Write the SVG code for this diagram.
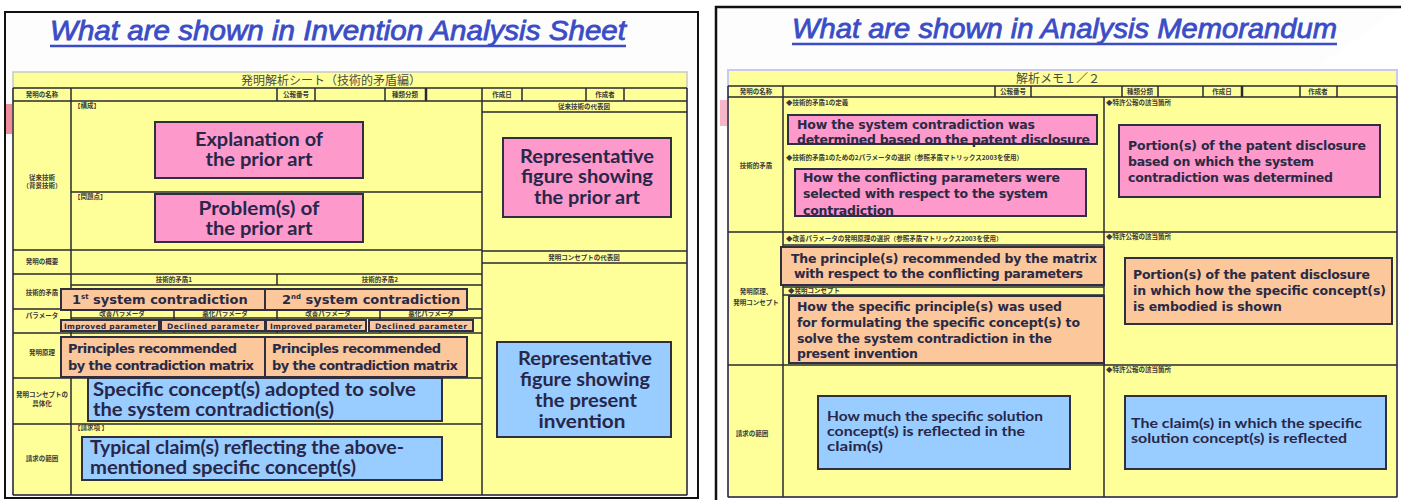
<svg xmlns="http://www.w3.org/2000/svg" width="1401" height="500" viewBox="0 0 1401 500">
<style>
.grid{stroke:#2a2a35;stroke-width:1.5;fill:none}
.thk{stroke:#2a2a35;stroke-width:2.5;fill:none}
.lbl{font-family:"Noto Sans CJK JP","Noto Sans",sans-serif;font-size:6.5px;font-weight:bold;fill:#3a3a3a}
.ttl{font-family:"Noto Sans CJK JP","Noto Sans",sans-serif;font-size:12px;fill:#4a4a4a}
.box{stroke:#2f2f3f;stroke-width:2}
.pink{fill:#fd99cb}
.orange{fill:#fbc79b}
.blue{fill:#99ccff}
.tl{font-family:Lato,"Liberation Sans",sans-serif;font-weight:bold;fill:#27274a}
.tv{font-family:"DejaVu Sans","Liberation Sans",sans-serif;font-weight:bold;fill:#2a2a45}
.head{font-family:"Liberation Sans",Arial,sans-serif;font-style:italic;font-size:28px;fill:#3a4cc6;stroke:#3a4cc6;stroke-width:0.8}
</style>
<rect width="1401" height="500" fill="#ffffff"/>

<!-- LEFT PANEL -->
<g id="left-panel">
<rect x="5" y="12" width="693" height="486" fill="#fdfdfd" stroke="#111" stroke-width="2"/>
<rect x="6" y="104" width="6" height="30" fill="#ef8e98"/>
<text class="head" x="50" y="40" textLength="576" lengthAdjust="spacingAndGlyphs">What are shown in Invention Analysis Sheet</text>
<line x1="50" y1="46" x2="626" y2="46" stroke="#3a4cc6" stroke-width="2.5"/>
</g>

<g id="sheet-left">
<rect x="13" y="72" width="674" height="423" fill="#ffff99" stroke="#c8c8c8" stroke-width="1.5"/>
<path class="grid" d="M13 88H687M13 101H687M13 88V495M687 88V495M13 495H687
M71 88V101M277 88V101M315 88V101M385 88V101M482 88V101M522 88V101M586 88V101M624 88V101
M71 101V495M482 101V495M71 192H482M13 250H482M482 251H687M482 112H687M482 263H687
M13 274H482M71 285H482M277 274V285M13 309H482M71 318H482M174 309V333M277 309V333M380 309V333
M13 333H482M13 378H482M13 424H482"/>
<path class="thk" d="M426 88V101"/>
<text class="ttl" x="331" y="85" text-anchor="middle">発明解析シート（技術的矛盾編）</text>
<text class="lbl" x="42" y="97" text-anchor="middle">発明の名称</text>
<text class="lbl" x="296" y="97" text-anchor="middle">公報番号</text>
<text class="lbl" x="405" y="97" text-anchor="middle">種類分類</text>
<text class="lbl" x="502" y="97" text-anchor="middle">作成日</text>
<text class="lbl" x="605" y="97" text-anchor="middle">作成者</text>
<text class="lbl" x="584" y="109" text-anchor="middle">従来技術の代表図</text>
<text class="lbl" x="584" y="260" text-anchor="middle">発明コンセプトの代表図</text>
<text class="lbl" x="74" y="108">【構成】</text>
<text class="lbl" x="74" y="199">【問題点】</text>
<text class="lbl" x="42" y="180" text-anchor="middle">従来技術</text>
<text class="lbl" x="42" y="188" text-anchor="middle">（背景技術）</text>
<text class="lbl" x="42" y="264" text-anchor="middle">発明の概要</text>
<text class="lbl" x="42" y="295" text-anchor="middle">技術的矛盾</text>
<text class="lbl" x="42" y="318" text-anchor="middle">パラメータ</text>
<text class="lbl" x="42" y="355" text-anchor="middle">発明原理</text>
<text class="lbl" x="42" y="397" text-anchor="middle">発明コンセプトの</text>
<text class="lbl" x="42" y="406" text-anchor="middle">具体化</text>
<text class="lbl" x="42" y="461" text-anchor="middle">請求の範囲</text>
<text class="lbl" x="74" y="430">【請求項 】</text>
<text class="lbl" x="174" y="282" text-anchor="middle">技術的矛盾1</text>
<text class="lbl" x="380" y="282" text-anchor="middle">技術的矛盾2</text>
<text class="lbl" x="122" y="316" text-anchor="middle">改善パラメータ</text>
<text class="lbl" x="225" y="316" text-anchor="middle">悪化パラメータ</text>
<text class="lbl" x="328" y="316" text-anchor="middle">改善パラメータ</text>
<text class="lbl" x="431" y="316" text-anchor="middle">悪化パラメータ</text>
</g>

<g id="explanation-prior-art">
<rect class="box pink" x="155" y="122" width="208" height="56"/>
<text class="tl" font-size="18" x="259" y="146" text-anchor="middle" textLength="128" lengthAdjust="spacingAndGlyphs">Explanation of</text>
<text class="tl" font-size="18" x="259" y="166" text-anchor="middle" textLength="107" lengthAdjust="spacingAndGlyphs">the prior art</text>
</g>
<g id="problems-prior-art">
<rect class="box pink" x="155" y="194" width="208" height="48"/>
<text class="tl" font-size="18" x="259" y="215" text-anchor="middle" textLength="121" lengthAdjust="spacingAndGlyphs">Problem(s) of</text>
<text class="tl" font-size="18" x="259" y="235" text-anchor="middle" textLength="107" lengthAdjust="spacingAndGlyphs">the prior art</text>
</g>
<g id="figure-prior-art">
<rect class="box pink" x="503" y="138" width="168" height="79"/>
<text class="tl" font-size="18" x="587" y="163" text-anchor="middle" textLength="134" lengthAdjust="spacingAndGlyphs">Representative</text>
<text class="tl" font-size="18" x="587" y="183" text-anchor="middle" textLength="132" lengthAdjust="spacingAndGlyphs">figure showing</text>
<text class="tl" font-size="18" x="587" y="204" text-anchor="middle" textLength="106" lengthAdjust="spacingAndGlyphs">the prior art</text>
</g>
<g id="figure-present-invention">
<rect class="box blue" x="497" y="342" width="174" height="95"/>
<text class="tl" font-size="18" x="585" y="365" text-anchor="middle" textLength="134" lengthAdjust="spacingAndGlyphs">Representative</text>
<text class="tl" font-size="18" x="585" y="386" text-anchor="middle" textLength="130" lengthAdjust="spacingAndGlyphs">figure showing</text>
<text class="tl" font-size="18" x="586" y="407" text-anchor="middle" textLength="102" lengthAdjust="spacingAndGlyphs">the present</text>
<text class="tl" font-size="18" x="582" y="428" text-anchor="middle" textLength="87" lengthAdjust="spacingAndGlyphs">invention</text>
</g>
<g id="system-contradiction-1">
<rect class="box orange" x="61" y="289" width="204" height="21"/>
<text class="tv" font-size="13" x="72" y="304">1<tspan font-size="7" dy="-5">st</tspan><tspan dy="5"> system contradiction</tspan></text>
</g>
<g id="system-contradiction-2">
<rect class="box orange" x="265" y="289" width="202" height="21"/>
<text class="tv" font-size="13" x="282" y="304">2<tspan font-size="7" dy="-5">nd</tspan><tspan dy="5"> system contradiction</tspan></text>
</g>
<g id="parameters">
<rect class="box orange" stroke-width="1.5" x="61" y="320" width="98" height="11"/>
<rect class="box orange" stroke-width="1.5" x="161" y="320" width="104" height="11"/>
<rect class="box orange" stroke-width="1.5" x="266" y="320" width="100" height="11"/>
<rect class="box orange" stroke-width="1.5" x="369" y="320" width="104" height="11"/>
<text class="tv" font-size="7.5" x="110" y="329" text-anchor="middle" textLength="92">Improved parameter</text>
<text class="tv" font-size="7.5" x="213" y="329" text-anchor="middle" textLength="92">Declined parameter</text>
<text class="tv" font-size="7.5" x="316" y="329" text-anchor="middle" textLength="92">Improved parameter</text>
<text class="tv" font-size="7.5" x="421" y="329" text-anchor="middle" textLength="92">Declined parameter</text>
</g>
<g id="principles-1">
<rect class="box orange" x="61" y="337" width="204" height="40"/>
<text class="tv" font-size="13" x="68" y="353" textLength="169">Principles recommended</text>
<text class="tv" font-size="13" x="68" y="370" textLength="186">by the contradiction matrix</text>
</g>
<g id="principles-2">
<rect class="box orange" x="265" y="337" width="202" height="40"/>
<text class="tv" font-size="13" x="272" y="353" textLength="169">Principles recommended</text>
<text class="tv" font-size="13" x="272" y="370" textLength="186">by the contradiction matrix</text>
</g>
<g id="specific-concept">
<rect class="box blue" x="88" y="378" width="354" height="43"/>
<text class="tl" font-size="18.5" x="93" y="396" textLength="323" lengthAdjust="spacingAndGlyphs">Specific concept(s) adopted to solve</text>
<text class="tl" font-size="18.5" x="93" y="416" textLength="241" lengthAdjust="spacingAndGlyphs">the system contradiction(s)</text>
</g>
<g id="typical-claims">
<rect class="box blue" x="82" y="437" width="360" height="43"/>
<text class="tl" font-size="18.5" x="90" y="454" textLength="314" lengthAdjust="spacingAndGlyphs">Typical claim(s) reflecting the above-</text>
<text class="tl" font-size="18.5" x="90" y="474" textLength="266" lengthAdjust="spacingAndGlyphs">mentioned specific concept(s)</text>
</g>

<!-- RIGHT PANEL -->
<g id="right-panel">
<path d="M716 500V7H1401" fill="#fdfdfd" stroke="#111" stroke-width="2.5"/>
<rect x="720" y="100" width="7" height="26" fill="#f6b6c8"/>
<text class="head" x="792" y="38" textLength="545" lengthAdjust="spacingAndGlyphs">What are shown in Analysis Memorandum</text>
<line x1="792" y1="44" x2="1337" y2="44" stroke="#3a4cc6" stroke-width="2.5"/>
</g>

<g id="sheet-right">
<rect x="728" y="70" width="669" height="427" fill="#ffff99" stroke="#c9c9ee" stroke-width="2"/>
<path class="grid" d="M728 86H1397M728 97H1397M728 86V497M1397 86V497M728 497H1397
M783 86V97M995 86V97M1031 86V97M1122 86V97M1158 86V97M1203 86V97M1300 86V97M1337 86V97
M783 97V497M1104 97V497M728 232H1397M728 365H1397M783 245H1104M783 287H1104M783 295H1104"/>
<path class="thk" d="M1242 86V97"/>
<text class="ttl" x="1058" y="83" text-anchor="middle">解析メモ１／２</text>
<text class="lbl" x="756" y="94" text-anchor="middle">発明の名称</text>
<text class="lbl" x="1013" y="94" text-anchor="middle">公報番号</text>
<text class="lbl" x="1140" y="94" text-anchor="middle">種類分類</text>
<text class="lbl" x="1222" y="94" text-anchor="middle">作成日</text>
<text class="lbl" x="1318" y="94" text-anchor="middle">作成者</text>
<text class="lbl" x="786" y="105">◆技術的矛盾1の定義</text>
<text class="lbl" x="786" y="160">◆技術的矛盾1のための2パラメータの選択（参照矛盾マトリックス2003を使用）</text>
<text class="lbl" x="786" y="241">◆改善パラメータの発明原理の選択（参照矛盾マトリックス2003を使用）</text>
<text class="lbl" x="788" y="293">◆発明コンセプト</text>
<text class="lbl" x="1106" y="105">◆特許公報の該当箇所</text>
<text class="lbl" x="1106" y="239">◆特許公報の該当箇所</text>
<text class="lbl" x="1106" y="372">◆特許公報の該当箇所</text>
<text class="lbl" x="756" y="168" text-anchor="middle">技術的矛盾</text>
<text class="lbl" x="756" y="294" text-anchor="middle">発明原理、</text>
<text class="lbl" x="756" y="305" text-anchor="middle">発明コンセプト</text>
<text class="lbl" x="752" y="436" text-anchor="middle">請求の範囲</text>
</g>

<g id="sc-determination">
<rect class="box pink" x="788" y="115" width="309" height="29"/>
<text class="tv" font-size="12.5" x="797" y="129" textLength="238">How the system contradiction was</text>
<text class="tv" font-size="12.5" x="797" y="144" textLength="293">determined based on the patent disclosure</text>
</g>
<g id="parameter-selection">
<rect class="box pink" x="795" y="169" width="291" height="47"/>
<text class="tv" font-size="12.5" x="803" y="182" textLength="257">How the conflicting parameters were</text>
<text class="tv" font-size="12.5" x="803" y="198" textLength="245">selected with respect to the system</text>
<text class="tv" font-size="12.5" x="803" y="215" textLength="91">contradiction</text>
</g>
<g id="portion-sc">
<rect class="box pink" x="1119" y="125" width="261" height="72"/>
<text class="tv" font-size="12.5" x="1128" y="150" textLength="238">Portion(s) of the patent disclosure</text>
<text class="tv" font-size="12.5" x="1128" y="166" textLength="186">based on which the system</text>
<text class="tv" font-size="12.5" x="1128" y="182" textLength="205">contradiction was determined</text>
</g>
<g id="recommended-principles">
<rect class="box orange" x="781" y="247" width="323" height="38"/>
<text class="tv" font-size="12.5" x="791" y="263" textLength="306">The principle(s) recommended by the matrix</text>
<text class="tv" font-size="12.5" x="794" y="278" textLength="289">with respect to the conflicting parameters</text>
</g>
<g id="principle-usage">
<rect class="box orange" x="789" y="296" width="315" height="67"/>
<text class="tv" font-size="12.5" x="797" y="311" textLength="265">How the specific principle(s) was used</text>
<text class="tv" font-size="12.5" x="797" y="327" textLength="283">for formulating the specific concept(s) to</text>
<text class="tv" font-size="12.5" x="797" y="343" textLength="255">solve the system contradiction in the</text>
<text class="tv" font-size="12.5" x="797" y="358" textLength="121">present invention</text>
</g>
<g id="portion-concept">
<rect class="box orange" x="1125" y="258" width="267" height="66"/>
<text class="tv" font-size="12.5" x="1133" y="279" textLength="237">Portion(s) of the patent disclosure</text>
<text class="tv" font-size="12.5" x="1133" y="295" textLength="253">in which how the specific concept(s)</text>
<text class="tv" font-size="12.5" x="1133" y="311" textLength="149">is embodied is shown</text>
</g>
<g id="claim-reflection">
<rect class="box blue" x="818" y="396" width="252" height="73"/>
<text class="tl" font-size="14" x="827" y="421" textLength="216" lengthAdjust="spacingAndGlyphs">How much the specific solution</text>
<text class="tl" font-size="14" x="827" y="436" textLength="198" lengthAdjust="spacingAndGlyphs">concept(s) is reflected in the</text>
<text class="tl" font-size="14" x="827" y="451" textLength="56" lengthAdjust="spacingAndGlyphs">claim(s)</text>
</g>
<g id="claims-portion">
<rect class="box blue" x="1125" y="396" width="261" height="73"/>
<text class="tl" font-size="14" x="1131" y="428" textLength="231" lengthAdjust="spacingAndGlyphs">The claim(s) in which the specific</text>
<text class="tl" font-size="14" x="1131" y="443" textLength="216" lengthAdjust="spacingAndGlyphs">solution concept(s) is reflected</text>
</g>
<g id="connectors"/>
</svg>
